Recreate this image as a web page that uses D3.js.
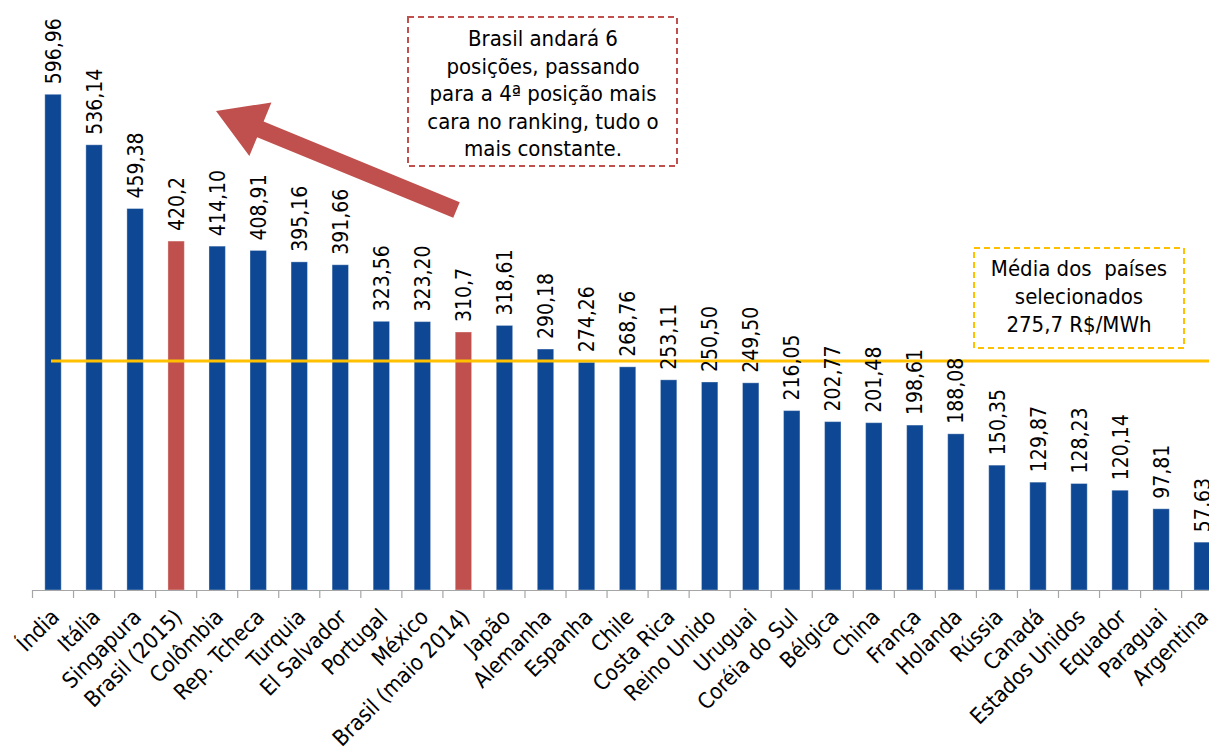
<!DOCTYPE html>
<html>
<head>
<meta charset="utf-8">
<script src="https://cdn.jsdelivr.net/npm/d3@7"></script>
<style>
    body { margin: 0; background: #fff; }
    text { font-family: "DejaVu Sans Condensed", "DejaVu Sans", sans-serif; fill: #000; }
</style>
</head>
<body>
<div id="chart-area"></div>
<script>
let countries = ["Índia", "Itália", "Singapura", "Brasil (2015)", "Colômbia", "Rep. Tcheca",
    "Turquia", "El Salvador", "Portugal", "México", "Brasil (maio 2014)", "Japão",
    "Alemanha", "Espanha", "Chile", "Costa Rica", "Reino Unido", "Uruguai",
    "Coréia do Sul", "Bélgica", "China", "França", "Holanda", "Rússia", "Canadá",
    "Estados Unidos", "Equador", "Paraguai", "Argentina"];

let values = [596.96, 536.14, 459.38, 420.2, 414.10, 408.91, 395.16, 391.66, 323.56,
    323.20, 310.7, 318.61, 290.18, 274.26, 268.76, 253.11, 250.50, 249.50, 216.05,
    202.77, 201.48, 198.61, 188.08, 150.35, 129.87, 128.23, 120.14, 97.81, 57.63];

let valueLabels = ["596,96", "536,14", "459,38", "420,2", "414,10", "408,91", "395,16",
    "391,66", "323,56", "323,20", "310,7", "318,61", "290,18", "274,26", "268,76",
    "253,11", "250,50", "249,50", "216,05", "202,77", "201,48", "198,61", "188,08",
    "150,35", "129,87", "128,23", "120,14", "97,81", "57,63"];

let highlighted = ["Brasil (2015)", "Brasil (maio 2014)"];

let average = 275.7;

let noteLines = ["Brasil andará 6", "posições, passando", "para a 4ª posição mais",
    "cara no ranking, tudo o", "mais constante."];
let averageLines = ["Média dos  países", "selecionados", "275,7 R$/MWh"];

let data = countries.map(function (c, i) {
    return { name: c, value: values[i], label: valueLabels[i] };
});

let svg = d3.select("#chart-area")
    .append("svg")
    .attr("width", 1209)
    .attr("height", 747);

let baseY = 590;
let step = 41.04;

let x = d3.scaleBand()
    .domain(countries)
    .range([32.5, 32.5 + step * countries.length])
    .paddingInner(0.6)
    .paddingOuter(0.3);

let y = d3.scaleLinear()
    .domain([0, 600])
    .range([baseY, baseY - 600 * 0.8304]);

// bars
svg.selectAll("rect.bar").data(data).enter().append("rect")
    .attr("class", "bar")
    .attr("x", (d) => x(d.name))
    .attr("y", (d) => y(d.value))
    .attr("width", x.bandwidth())
    .attr("height", (d) => y(0) - y(d.value))
    .attr("fill", (d) => highlighted.includes(d.name) ? "#c0504d" : "#0e4793")
    .attr("stroke", "#ffffff")
    .attr("stroke-opacity", 0.35)
    .attr("stroke-width", 1);

// average line (on top of bars)
svg.append("line")
    .attr("x1", 51)
    .attr("x2", 1209)
    .attr("y1", y(average))
    .attr("y2", y(average))
    .attr("stroke", "#ffc000")
    .attr("stroke-width", 3);

// value labels
svg.selectAll("text.val").data(data).enter().append("text")
    .attr("class", "val")
    .attr("transform", (d) => "translate(" + (x(d.name) + x.bandwidth() / 2) + "," + (y(d.value) - 10) + ") rotate(-90)")
    .attr("dy", "0.36em")
    .attr("font-size", "21px")
    .text((d) => d.label);

// axis
let axis = svg.append("g")
    .attr("transform", "translate(0," + baseY + ")")
    .call(d3.axisBottom(x).tickSize(0).tickSizeOuter(0));

axis.select(".domain").attr("stroke", "#a6a6a6").attr("stroke-width", 1.2);

axis.selectAll(".tick text")
    .attr("font-size", "22px")
    .attr("font-family", "DejaVu Sans Condensed, DejaVu Sans, sans-serif")
    .attr("fill", "#000")
    .attr("text-anchor", "end")
    .attr("transform", "translate(2,23) rotate(-45)")
    .attr("y", 0)
    .attr("dy", "0.35em");

// category boundary ticks
let boundaries = d3.range(countries.length + 1).map((i) => x.range()[0] + i * x.step());
axis.selectAll("line.sep").data(boundaries).enter().append("line")
    .attr("class", "sep")
    .attr("x1", (d) => d)
    .attr("x2", (d) => d)
    .attr("y1", 0)
    .attr("y2", 8)
    .attr("stroke", "#a6a6a6")
    .attr("stroke-width", 1.2);

// arrow annotation
let tail = [456.5, 210];
let tip = [216, 111];
let shaftW = 17, headL = 48, headW = 58;
let ang = Math.atan2(tip[1] - tail[1], tip[0] - tail[0]);
let ux = Math.cos(ang), uy = Math.sin(ang), px = -uy, py = ux;
let bx = tip[0] - ux * headL, by = tip[1] - uy * headL;
let arrowPts = [
    [tail[0] + px * shaftW / 2, tail[1] + py * shaftW / 2],
    [bx + px * shaftW / 2, by + py * shaftW / 2],
    [bx + px * headW / 2, by + py * headW / 2],
    tip,
    [bx - px * headW / 2, by - py * headW / 2],
    [bx - px * shaftW / 2, by - py * shaftW / 2],
    [tail[0] - px * shaftW / 2, tail[1] - py * shaftW / 2]
];
svg.append("path")
    .attr("d", d3.line()(arrowPts) + "Z")
    .attr("fill", "#c0504d");

// note box
svg.append("rect")
    .attr("x", 408).attr("y", 17).attr("width", 269).attr("height", 149)
    .attr("fill", "#fff")
    .attr("stroke", "#c0504d")
    .attr("stroke-width", 2)
    .attr("stroke-dasharray", "6,4");

svg.selectAll("text.note").data(noteLines).enter().append("text")
    .attr("class", "note")
    .attr("x", 543)
    .attr("y", (d, i) => 46 + i * 27.6)
    .attr("text-anchor", "middle")
    .attr("font-size", "22px")
    .text((d) => d);

// average box
svg.append("rect")
    .attr("x", 974).attr("y", 248).attr("width", 210).attr("height", 100)
    .attr("fill", "#fff")
    .attr("stroke", "#ffc000")
    .attr("stroke-width", 2)
    .attr("stroke-dasharray", "6,4");

svg.selectAll("text.avg").data(averageLines).enter().append("text")
    .attr("class", "avg")
    .attr("x", 1079)
    .attr("y", (d, i) => 276 + i * 28)
    .attr("text-anchor", "middle")
    .attr("font-size", "22px")
    .style("white-space", "pre")
    .text((d) => d);
</script>
</body>
</html>
